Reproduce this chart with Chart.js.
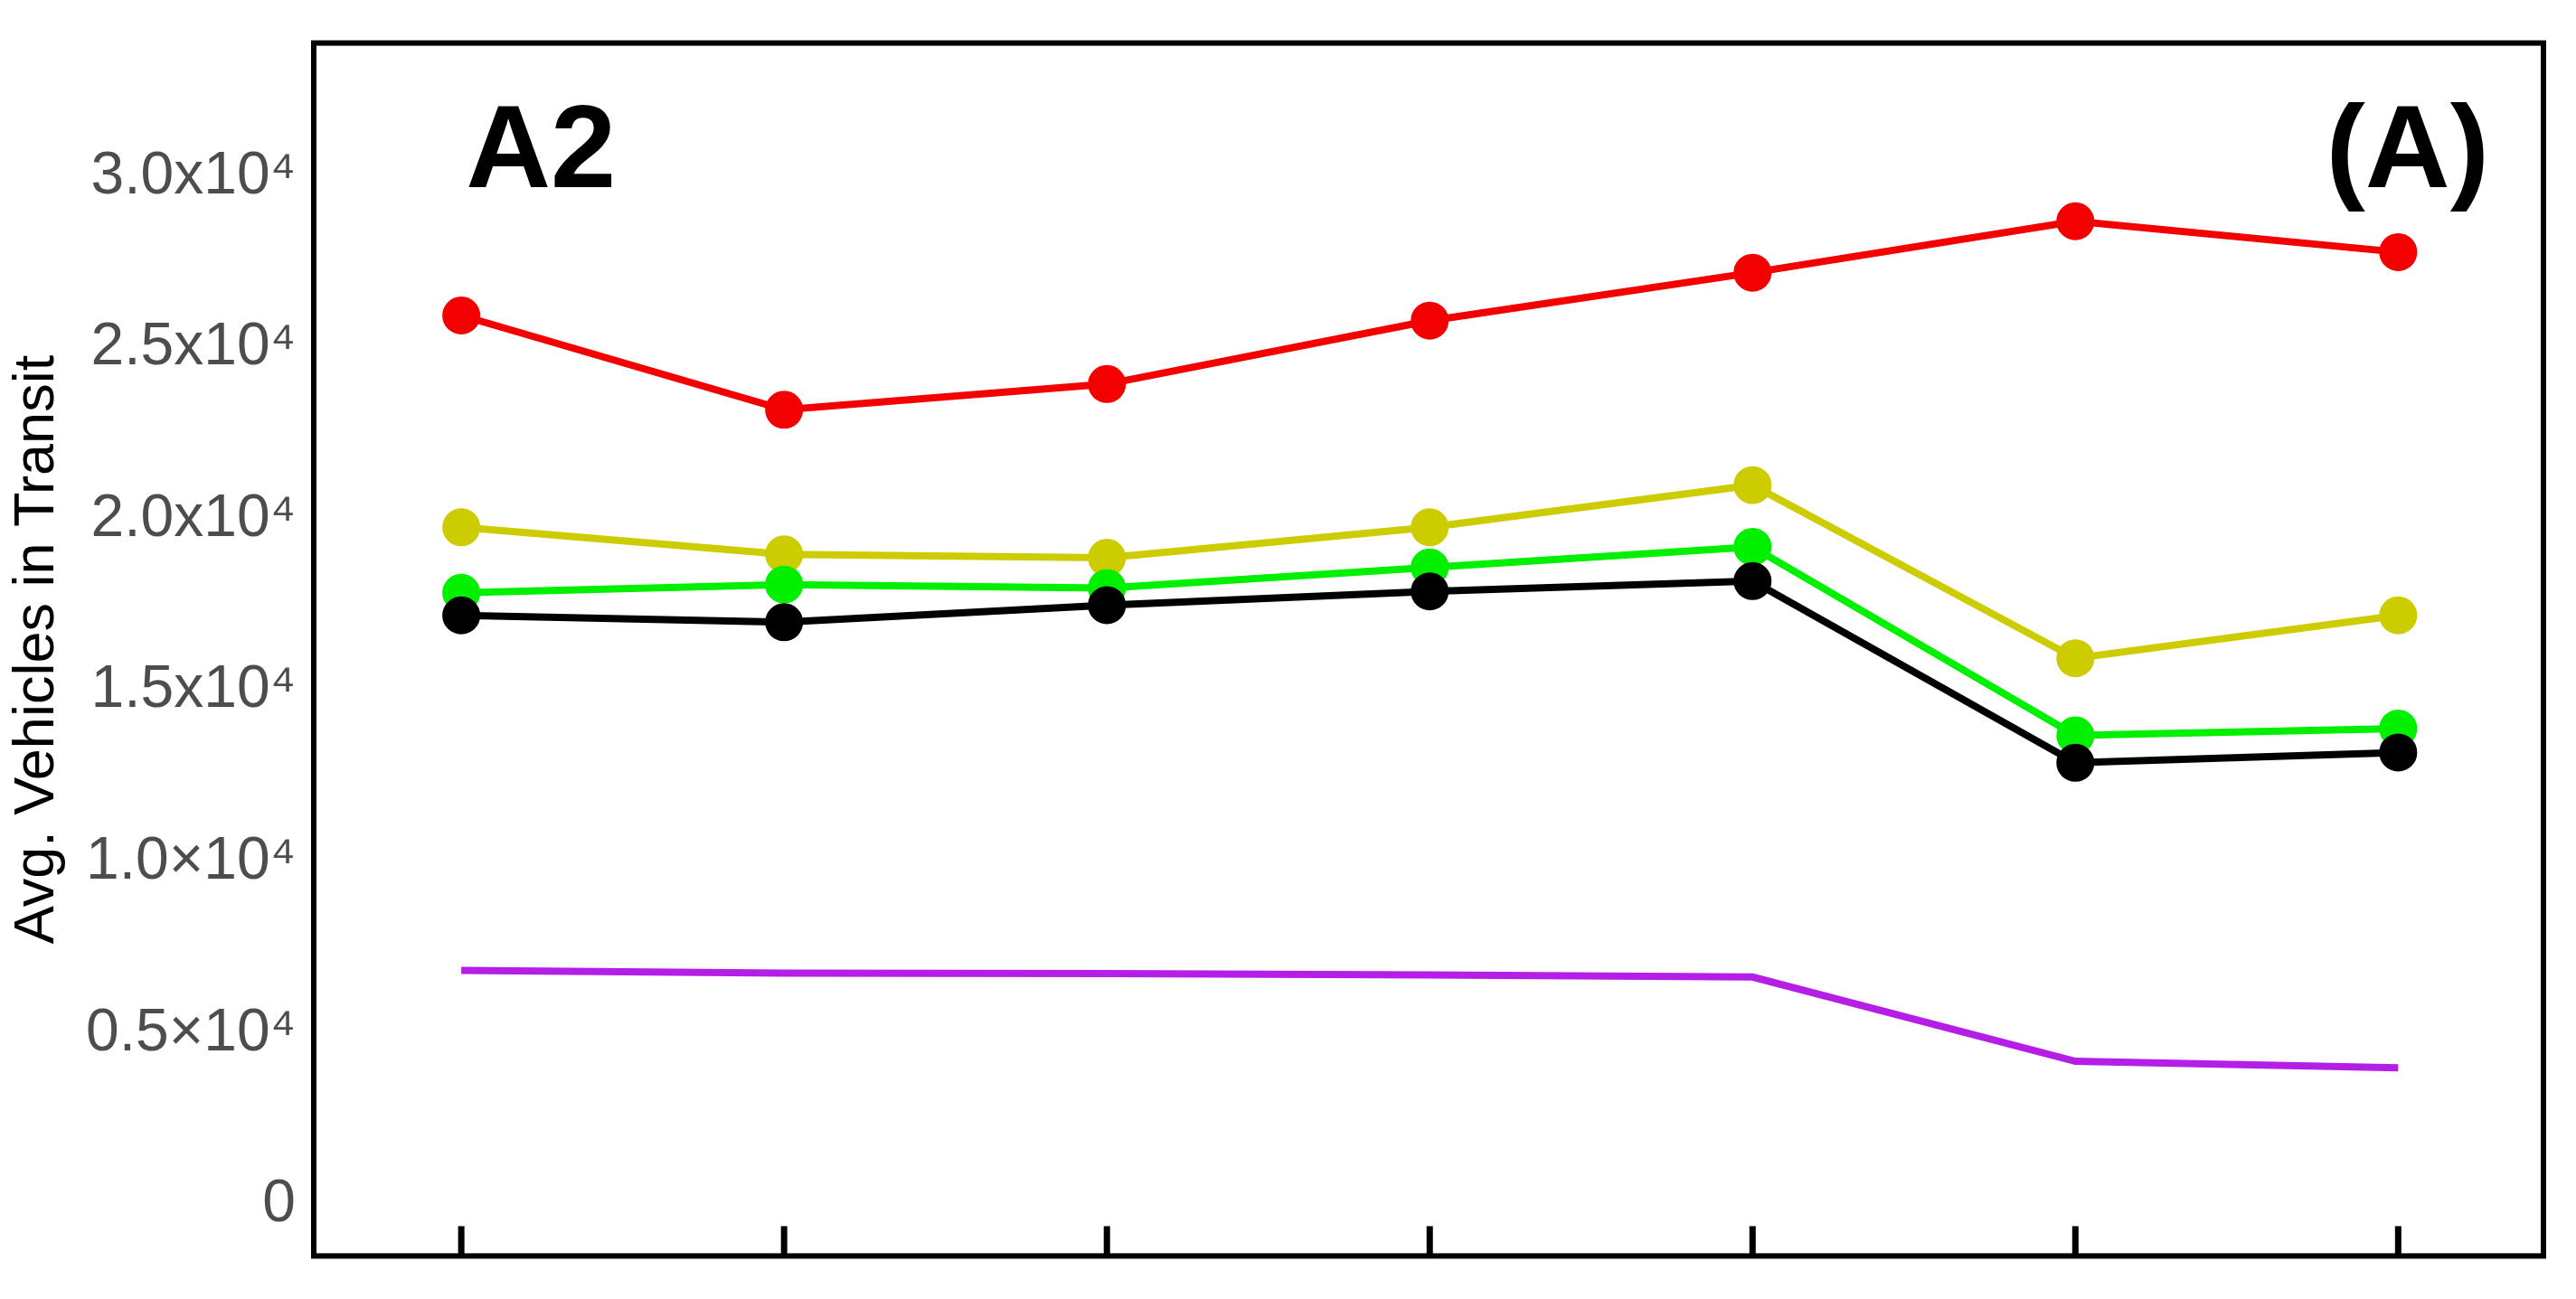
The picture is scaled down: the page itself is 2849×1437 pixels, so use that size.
<!DOCTYPE html>
<html><head><meta charset="utf-8">
<script src="https://cdn.jsdelivr.net/npm/chart.js@4"></script>
<style>html,body{margin:0;padding:0;background:#fff}#w{width:2849px;height:1437px}</style>
</head><body><div id="w"><canvas id="c"></canvas></div>
<script>
const categories = [0,1,2,3,4,5,6];
const redVals    = [25950,23200,23950,25800,27200,28700,27800];
const yellowVals = [19770,18980,18880,19770,21000,15950,17200];
const greenVals  = [17860,18100,18000,18600,19200,13700,13900];
const blackVals  = [17200,17000,17500,17900,18200,12900,13200];
const purpleVals = [6840,6760,6750,6710,6650,4190,4000];
const yTickLabels = {0:'0',5000:'0.5×10⁴',10000:'1.0×10⁴',15000:'1.5x10⁴',20000:'2.0x10⁴',25000:'2.5x10⁴',30000:'3.0x10⁴'};

const mk = (d,color,pts)=>({data:categories.map((x,i)=>({x,y:d[i]})),borderColor:color,backgroundColor:color,borderWidth:8,pointRadius:pts?17:0,pointHoverRadius:pts?17:0,tension:0});
const deco = {id:'deco',afterDraw(ch){
  const {ctx,chartArea:a,scales:{x,y}}=ch;
  ctx.save();
  ctx.strokeStyle='#000';ctx.lineWidth=6;
  ctx.strokeRect(a.left,a.top,a.right-a.left,a.bottom-a.top);
  ctx.lineWidth=7;
  categories.forEach(v=>{const px=x.getPixelForValue(v);ctx.beginPath();ctx.moveTo(px,a.bottom);ctx.lineTo(px,a.bottom-33);ctx.stroke();});
  ctx.fillStyle='#000';ctx.font='bold 130px "Liberation Sans", Arial, sans-serif';ctx.textBaseline='alphabetic';
  ctx.textAlign='left';ctx.fillText('A2',x.getPixelForValue(0)+5,y.getPixelForValue(29700));
  ctx.textAlign='right';ctx.fillText('(A)',a.right-60,y.getPixelForValue(29700));
  ctx.restore();
}};
new Chart(document.getElementById('c'),{
  type:'line',
  data:{datasets:[mk(purpleVals,'#b41ee6',false),mk(blackVals,'#000000',true),mk(greenVals,'#00f000',true),mk(yellowVals,'#cccc00',true),mk(redVals,'#f50000',true)]},
  options:{responsive:true,maintainAspectRatio:false,animation:false,
    layout:{padding:{left:0,top:4,right:36,bottom:21}},
    plugins:{legend:{display:false},tooltip:{enabled:false}},
    scales:{
      x:{type:'linear',min:-0.457,max:6.45,display:false},
      y:{min:-1490,max:33900,
        afterFit(s){s.width=347;},
        afterBuildTicks(s){s.ticks=Object.keys(yTickLabels).map(v=>({value:+v}));},
        grid:{display:false,drawTicks:true,tickLength:12,tickColor:'#4d4d4d',tickWidth:3},
        border:{display:false},
        ticks:{color:'#4d4d4d',font:{size:66,family:'"Liberation Sans", Arial'},padding:8,callback:v=>yTickLabels[v]},
        title:{display:true,text:'Avg. Vehicles in Transit',color:'#000',font:{size:63,family:'"Liberation Sans", Arial'},padding:{bottom:2}}
      }
    }
  },
  plugins:[deco]
});
</script></body></html>
